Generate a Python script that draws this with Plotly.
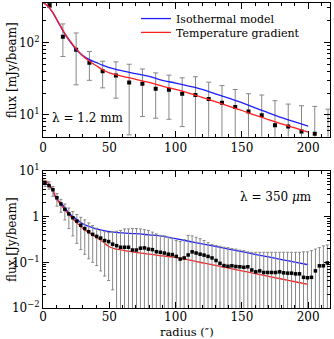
import numpy as np
import plotly.graph_objects as go

# ---------------- data: 1.2 mm panel ----------------
r_mm = [5, 15, 25, 35, 45, 55, 65, 75, 85, 95, 105, 115, 125, 135, 145, 155, 165, 175, 185, 195, 205, 215]
flux_mm = [325, 120, 79, 52.5, 40, 35, 28, 26.8, 23, 22.3, 19.6, 18.8, 16.6, 14.7, 12.9, 11.1, 9.9, 7.2, 6.9, 5.9, 5.5, 4.5]
upper_mm = [345, 180, 135, 75, 55, 54, 50, 43, 38, 35.4, 32.5, 33.6, 28.3, 25.4, 22.4, 19.6, 18.8, 15.7, 14.1, 13.4, 13.1, 12.0]
lower_mm = [305, 64, 26, 30, 23.6, 17, 5.3, 9.5, 9, 8.7, 6.9, 1, 1, 1, 1, 1, 1, 1, 1, 1, 1, 1]

r_mod_mm = [0, 2.5, 5, 7.5, 10, 12.5, 15, 17.5, 20, 22.5, 25, 30, 35, 40, 45, 50, 60, 70, 80, 90,
            100, 110, 120, 130, 140, 150, 160, 170, 180, 190, 200]
iso_mm = [355, 330, 295, 255, 212, 175, 145, 122, 105, 91, 80, 66, 58, 53, 48.5, 45, 40.5, 37, 34, 30,
          27.5, 25, 22.5, 19.5, 17, 14.8, 12.5, 10.7, 9.2, 8.0, 7.0]
grad_mm = [355, 330, 298, 258, 215, 178, 148, 125, 108, 93, 82, 65, 55, 48, 42, 38, 34, 31, 28, 25,
           22.5, 20, 17.5, 15.2, 13.2, 11.5, 9.9, 8.6, 7.5, 6.6, 5.8]

# ---------------- data: 350 micron panel ----------------
r_350 = [1.5 + 3 * k for k in range(72)]
flux_350 = [5.4, 4.8, 3.9, 2.6, 1.9, 1.45, 1.15, 0.95, 0.8, 0.65, 0.55, 0.47, 0.41, 0.37, 0.34, 0.30,
            0.285, 0.25, 0.232, 0.214, 0.214, 0.214, 0.186, 0.186, 0.204, 0.207, 0.195, 0.19, 0.171, 0.166,
            0.16, 0.151, 0.148, 0.135, 0.118, 0.125, 0.145, 0.17, 0.16, 0.151, 0.144, 0.135, 0.125, 0.11,
            0.095, 0.085, 0.082, 0.084, 0.081, 0.08, 0.078, 0.08, 0.068, 0.062, 0.065, 0.06, 0.06, 0.06,
            0.06, 0.062, 0.059, 0.058, 0.058, 0.056, 0.056, 0.047, 0.046, 0.047, 0.065, 0.084, 0.084, 0.097]
upper_350 = [6.2, 5.8, 4.6, 3.2, 2.4, 1.9, 1.55, 1.3, 1.12, 0.97, 0.85, 0.73, 0.64, 0.56, 0.5, 0.47,
             0.45, 0.46, 0.48, 0.5, 0.54, 0.54, 0.55, 0.55, 0.54, 0.52, 0.5, 0.46, 0.42, 0.39,
             0.38, 0.355, 0.33, 0.30, 0.285, 0.315, 0.39, 0.38, 0.355, 0.33, 0.30, 0.27, 0.245, 0.235,
             0.225, 0.215, 0.21, 0.2, 0.195, 0.185, 0.18, 0.17, 0.166, 0.166, 0.166, 0.166, 0.166, 0.166,
             0.166, 0.166, 0.166, 0.166, 0.166, 0.166, 0.166, 0.17, 0.17, 0.18, 0.195, 0.21, 0.23, 0.24]
lower_350 = [4.6, 4.0, 2.8, 1.7, 1.25, 0.85, 0.55, 0.38, 0.26, 0.19, 0.15, 0.12, 0.1, 0.085, 0.065, 0.05,
             0.04, 0.025] + [1e-4] * 54

r_mod_350 = [0, 2.5, 5, 7.5, 10, 12.5, 15, 20, 25, 30, 35, 40, 45, 50, 55, 60, 70, 80, 90,
             100, 110, 120, 130, 140, 150, 160, 170, 180, 190, 200]
iso_350 = [5.4, 5.2, 4.7, 3.6, 2.5, 2.1, 1.78, 1.16, 0.90, 0.70, 0.61, 0.54, 0.50, 0.47, 0.455, 0.44, 0.425, 0.40, 0.375,
           0.33, 0.29, 0.254, 0.223, 0.195, 0.171, 0.150, 0.132, 0.115, 0.101, 0.0886]
grad_350 = [6.3, 6.0, 5.0, 3.8, 2.5, 2.0, 1.6, 1.07, 0.76, 0.55, 0.44, 0.355, 0.285, 0.22, 0.195, 0.186, 0.165, 0.152, 0.138,
            0.129, 0.113, 0.098, 0.0857, 0.0747, 0.0651, 0.0568, 0.0495, 0.0432, 0.0376, 0.0328]

x_ticks = [0, 50, 100, 150, 200]
y1_ticks = [10, 100]
y1_text = ["10<sup>1</sup>", "10<sup>2</sup>"]
y2_ticks = [0.01, 0.1, 1, 10]
y2_text = ["10<sup>\u22122</sup>", "10<sup>\u22121</sup>", "1", "10<sup>1</sup>"]

BLUE = "rgb(30,30,255)"
RED = "rgb(255,30,30)"
GREY = "rgb(135,135,135)"
FONT = "DejaVu Serif"

def errs(v, hi, lo):
    return [h - a for a, h in zip(v, hi)], [a - l for a, l in zip(v, lo)]

fig = go.Figure()

p_mm, m_mm = errs(flux_mm, upper_mm, lower_mm)
fig.add_trace(go.Scatter(x=r_mm, y=flux_mm, mode="markers", xaxis="x", yaxis="y",
                         marker=dict(symbol="square", size=4, color="black"),
                         error_y=dict(type="data", symmetric=False, array=p_mm, arrayminus=m_mm,
                                      color=GREY, thickness=1, width=2.5),
                         showlegend=False))
fig.add_trace(go.Scatter(x=r_mod_mm, y=iso_mm, mode="lines", xaxis="x", yaxis="y",
                         line=dict(color=BLUE, width=1.3, shape="spline"),
                         name="Isothermal model", legend="legend"))
fig.add_trace(go.Scatter(x=r_mod_mm, y=grad_mm, mode="lines", xaxis="x", yaxis="y",
                         line=dict(color=RED, width=1.3, shape="spline"),
                         name="Temperature gradient", legend="legend2"))

p_350, m_350 = errs(flux_350, upper_350, lower_350)
fig.add_trace(go.Scatter(x=r_mod_350, y=iso_350, mode="lines", xaxis="x2", yaxis="y2",
                         line=dict(color=BLUE, width=1.3, shape="spline"), showlegend=False))
fig.add_trace(go.Scatter(x=r_mod_350, y=grad_350, mode="lines", xaxis="x2", yaxis="y2",
                         line=dict(color=RED, width=1.3, shape="spline"), showlegend=False))
fig.add_trace(go.Scatter(x=r_350, y=flux_350, mode="markers", xaxis="x2", yaxis="y2",
                         marker=dict(symbol="square", size=3.5, color="black"),
                         error_y=dict(type="data", symmetric=False, array=p_350, arrayminus=m_350,
                                      color=GREY, thickness=1, width=1.5),
                         showlegend=False))

def minor_log(lo_exp, hi_exp):
    out = []
    for e in range(lo_exp, hi_exp + 1):
        for d in range(2, 10):
            out.append(d * 10.0 ** e)
    return out

axis_common = dict(showline=True, linecolor="black", linewidth=1, mirror="ticks",
                   ticks="inside", ticklen=6, tickcolor="black", tickwidth=1,
                   showgrid=False, zeroline=False, automargin=False,
                   tickfont=dict(family=FONT, size=12, color="black"))

xax = dict(axis_common, range=[0, 216.5], tickvals=x_ticks,
           minor=dict(dtick=10, tick0=0, ticks="inside", ticklen=3, tickcolor="black", showgrid=False))

ann_font = dict(family=FONT, size=12, color="black")
leg_font = dict(family=FONT, size=11, color="black")

fig.update_layout(
    width=334, height=339,
    margin=dict(l=43, r=4, t=3, b=31, autoexpand=False),
    paper_bgcolor="white", plot_bgcolor="white",
    font=dict(family=FONT, size=12, color="black"),
    xaxis=dict(xax, anchor="y"),
    xaxis2=dict(xax, anchor="y2", ticklabelstandoff=-2),
    yaxis=dict(axis_common, type="log", domain=[0.5616, 1.0], anchor="x",
               range=[np.log10(5), np.log10(350)], tickvals=y1_ticks, ticktext=y1_text,
               minor=dict(tickvals=minor_log(0, 2), ticks="inside", ticklen=3, tickcolor="black", showgrid=False)),
    yaxis2=dict(axis_common, type="log", domain=[0.0, 0.449], anchor="x2",
                range=[-2, 1], tickvals=y2_ticks, ticktext=y2_text,
                minor=dict(tickvals=minor_log(-2, 0), ticks="inside", ticklen=3, tickcolor="black", showgrid=False)),
    legend=dict(x=0.324, y=0.949, xanchor="left", yanchor="middle", bgcolor="rgba(0,0,0,0)",
                font=leg_font, borderwidth=0),
    legend2=dict(x=0.324, y=0.904, xanchor="left", yanchor="middle", bgcolor="rgba(0,0,0,0)",
                 font=leg_font, borderwidth=0),
    annotations=[
        dict(text="\u03bb = 1.2 mm", xref="x domain", yref="y domain", x=0.024, y=0.14,
             xanchor="left", yanchor="middle", showarrow=False, font=ann_font),
        dict(text="\u03bb = 350 <i>\u03bc</i>m", xref="x2 domain", yref="y2 domain", x=0.678, y=0.812,
             xanchor="left", yanchor="middle", showarrow=False, font=ann_font),
        dict(text="flux [mJy/beam]", xref="paper", yref="y domain", x=-0.11, y=0.5,
             xanchor="center", yanchor="middle", textangle=-90, showarrow=False, font=ann_font),
        dict(text="flux [Jy/beam]", xref="paper", yref="y2 domain", x=-0.11, y=0.5,
             xanchor="center", yanchor="middle", textangle=-90, showarrow=False, font=ann_font),
        dict(text="radius (\u2033)", xref="x2 domain", yref="paper", x=0.5, y=-0.08,
             xanchor="center", yanchor="middle", showarrow=False,
             font=dict(family=FONT, size=11.5, color="black")),
    ],
)

fig.write_html("out.html", config={"displayModeBar": False},
               post_script="document.body.style.margin='0';document.body.style.overflow='hidden';")
